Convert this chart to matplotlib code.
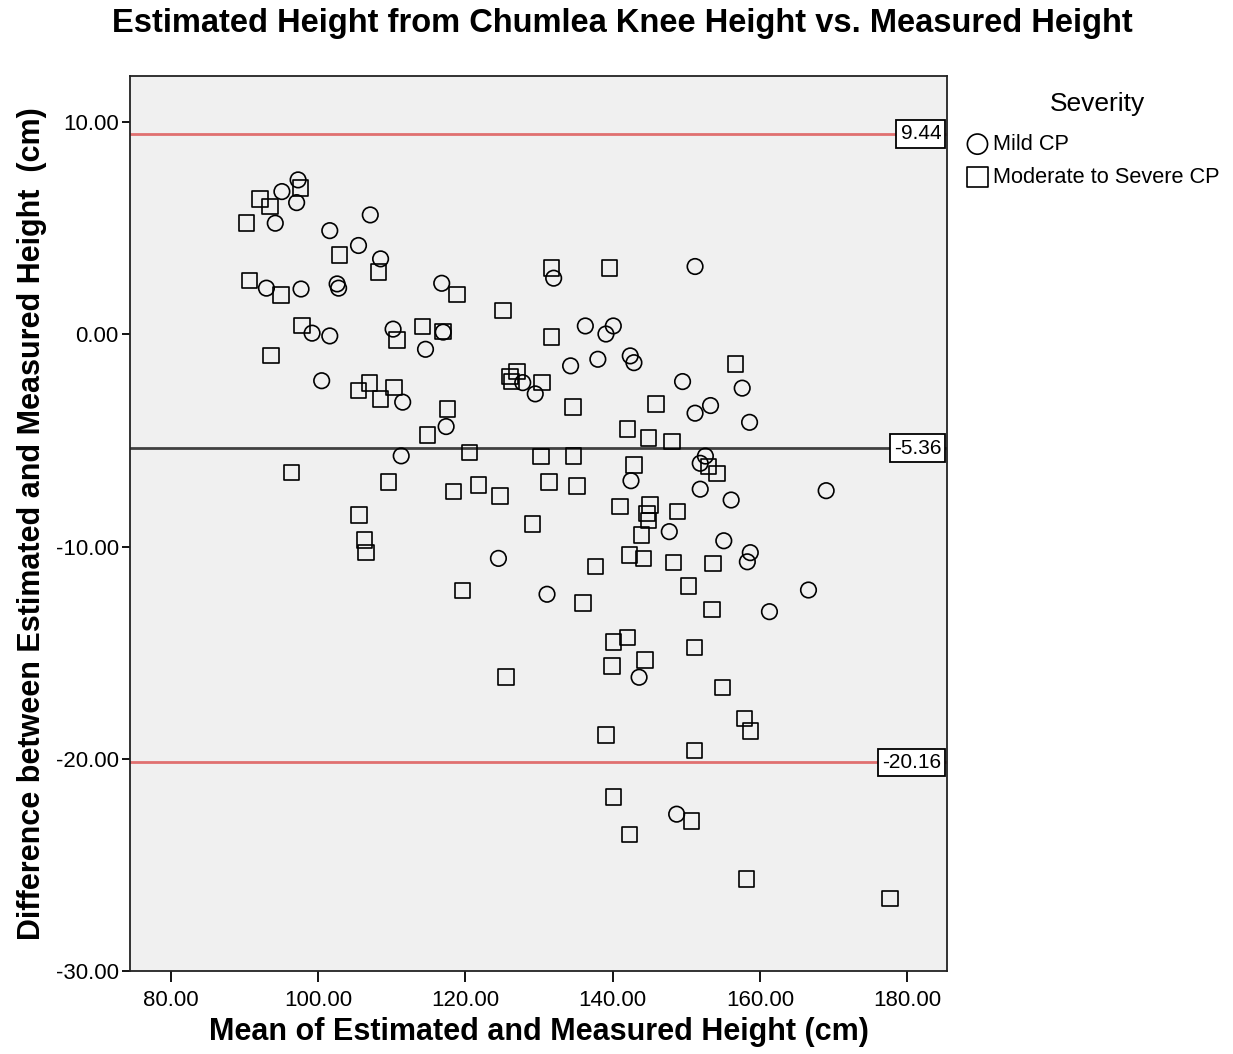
import matplotlib
matplotlib.use("Agg")
import matplotlib.pyplot as plt
from matplotlib.ticker import FormatStrFormatter

plt.rcParams['font.family'] = ['Liberation Sans', 'DejaVu Sans']

# Mild CP (circles): mean, difference
mild_mean = [97.3, 95.1, 97.1, 107.1, 94.2, 101.6, 105.5, 108.5, 93.0, 97.7,
             102.6, 102.8, 99.2, 101.6, 110.2, 114.6, 100.5, 111.5, 116.8, 132.0,
             151.2, 117.0, 136.3, 140.1, 139.1, 134.3, 138.0, 142.4, 142.9, 127.8,
             129.5, 149.5, 117.4, 151.2, 111.3, 157.6, 153.3, 158.6, 142.5, 152.6,
             151.9, 151.9, 156.1, 169.0, 147.7, 155.1, 158.7, 158.3, 166.6, 161.3,
             143.6, 148.7, 124.5, 131.1]
mild_diff = [7.27, 6.72, 6.20, 5.62, 5.23, 4.88, 4.18, 3.55, 2.17, 2.13,
             2.37, 2.17, 0.05, -0.08, 0.24, -0.71, -2.19, -3.20, 2.40, 2.64,
             3.19, 0.10, 0.39, 0.39, 0.01, -1.49, -1.18, -1.02, -1.34, -2.28,
             -2.81, -2.23, -4.35, -3.72, -5.73, -2.54, -3.36, -4.15, -6.90, -5.74,
             -6.08, -7.30, -7.81, -7.37, -9.30, -9.73, -10.29, -10.72, -12.05, -13.07,
             -16.16, -22.61, -10.56, -12.25]

# Moderate to Severe CP (squares)
mod_mean = [97.6, 92.1, 93.5, 90.3, 102.9, 108.2, 90.7, 95.0, 97.8, 110.7,
            114.2, 93.6, 105.5, 107.0, 108.5, 110.3, 118.9, 125.1, 131.7, 139.6,
            117.0, 131.7, 126.1, 127.0, 126.3, 130.4, 134.6, 145.9, 117.6, 114.9,
            142.0, 144.9, 148.1, 120.6, 130.3, 134.7, 142.9, 156.7, 135.2, 153.0,
            154.2, 141.0, 145.1, 144.7, 144.9, 148.8, 143.9, 137.7, 142.3, 144.2,
            148.3, 153.6, 150.3, 136.0, 153.5, 140.1, 142.0, 151.1, 139.9, 144.4,
            154.9, 157.9, 158.7, 139.1, 151.1, 140.1, 142.3, 150.7, 158.2, 177.7,
            96.4, 109.6, 121.8, 118.4, 124.7, 131.4, 129.1, 105.6, 106.3, 106.5,
            119.6, 125.5]
mod_diff = [6.88, 6.36, 6.01, 5.23, 3.74, 2.92, 2.53, 1.85, 0.41, -0.27,
            0.36, -1.01, -2.66, -2.31, -3.06, -2.50, 1.88, 1.11, 3.11, 3.11,
            0.12, -0.14, -2.00, -1.76, -2.23, -2.28, -3.44, -3.28, -3.52, -4.75,
            -4.46, -4.90, -5.06, -5.58, -5.77, -5.74, -6.16, -1.40, -7.15, -6.24,
            -6.55, -8.12, -8.04, -8.44, -8.78, -8.36, -9.46, -10.95, -10.40, -10.56,
            -10.76, -10.79, -11.86, -12.65, -12.96, -14.49, -14.28, -14.75, -15.62, -15.35,
            -16.65, -18.10, -18.68, -18.88, -19.62, -21.79, -23.56, -22.92, -25.67, -26.58,
            -6.52, -6.95, -7.10, -7.42, -7.62, -6.97, -8.94, -8.52, -9.69, -10.29,
            -12.08, -16.14]

mean_diff = -5.36
upper_loa = 9.44
lower_loa = -20.16

fig = plt.figure(figsize=(12.33, 10.54), dpi=100)
ax = fig.add_axes([0.1054, 0.0787, 0.6626, 0.8493])
ax.set_facecolor('#f0f0f0')

ax.scatter(mild_mean, mild_diff, s=125, marker='o', facecolors='none',
           edgecolors='black', linewidths=1.2, label='Mild CP', zorder=3)
ax.scatter(mod_mean, mod_diff, s=125, marker='s', facecolors='none',
           edgecolors='black', linewidths=1.2, label='Moderate to Severe CP', zorder=3)

# mean difference and limits of agreement
ax.axhline(upper_loa, color='#e07070', lw=2, zorder=2)
ax.axhline(lower_loa, color='#e07070', lw=2, zorder=2)
ax.axhline(mean_diff, color='#404040', lw=2, zorder=2)
for val in [upper_loa, mean_diff, lower_loa]:
    ax.text(0.993, val, '%.2f' % val, transform=ax.get_yaxis_transform(),
            ha='right', va='center', fontsize=15, zorder=4,
            bbox=dict(boxstyle='square,pad=0.2', fc='white', ec='black', lw=1.3))

ax.set_xlim(74.47, 185.4)
ax.set_ylim(-30, 12.17)
ax.set_xticks([80, 100, 120, 140, 160, 180])
ax.set_yticks([-30, -20, -10, 0, 10])
ax.xaxis.set_major_formatter(FormatStrFormatter('%.2f'))
ax.yaxis.set_major_formatter(FormatStrFormatter('%.2f'))
ax.tick_params(axis='x', direction='out', length=8, width=1.3, labelsize=16, pad=6)
ax.tick_params(axis='y', direction='out', length=6, width=1.3, labelsize=16, pad=2)
for sp in ax.spines.values():
    sp.set_linewidth(1.3)
    sp.set_color('#222222')

ax.set_xlabel('Mean of Estimated and Measured Height (cm)', fontsize=22,
              fontweight='bold', labelpad=4)
ax.set_ylabel('Difference between Estimated and Measured Height  (cm)', fontsize=22,
              fontweight='bold', labelpad=6)
fig.text(0.505, 0.978, 'Estimated Height from Chumlea Knee Height vs. Measured Height',
         ha='center', va='center', fontsize=23.5, fontweight='bold')

# legend
fig.text(1097 / 1233, 1 - 104 / 1054, 'Severity', ha='center', va='center', fontsize=19)
leg = ax.legend(loc='upper left', bbox_to_anchor=(1.012, 0.945), frameon=False,
                fontsize=15.7, markerscale=1.3, handletextpad=0.15, borderaxespad=0,
                labelspacing=0.55, handlelength=1.1)

fig.savefig('out.png', dpi=100)
